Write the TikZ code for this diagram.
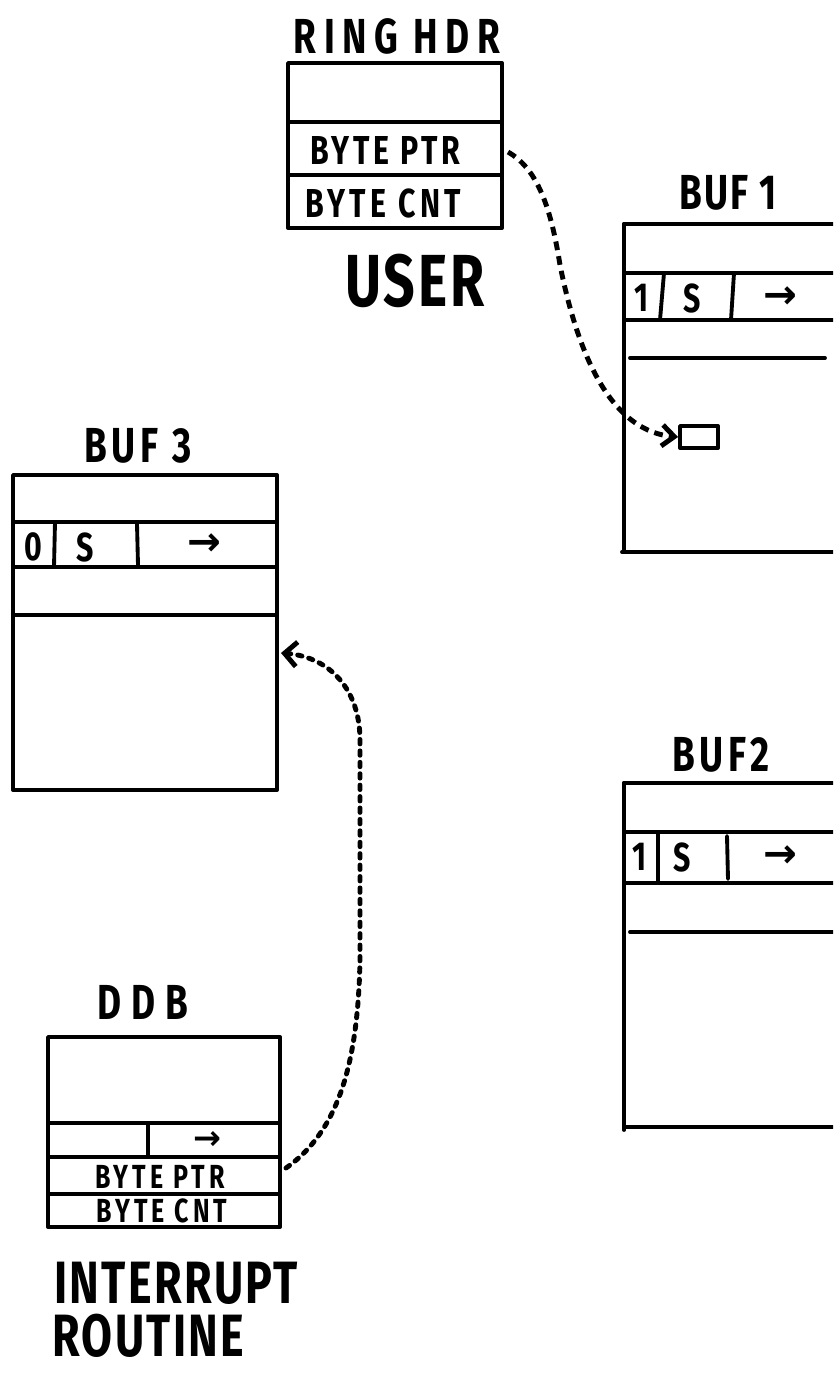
\documentclass[tikz,border=0pt]{standalone}
\usepackage{fontspec}
\newfontfamily\hand{Fira Sans}[FakeStretch=0.75]
\newfontfamily\arrowfont{DejaVu Sans}
\newcommand{\handfont}[3]{\hand\bfseries\fontsize{#1pt}{#2pt}\selectfont\addfontfeatures{LetterSpace=#3}}
\usetikzlibrary{arrows.meta}
\begin{document}
\begin{tikzpicture}[x=0.02cm, y=-0.02cm,
  wall/.style={line width=2.2pt, line cap=round, line join=round},
  title/.style={font=\handfont{28}{30}{#1}, inner sep=0pt},
  title/.default=10,
  field/.style={font=\handfont{23}{25}{#1}, inner sep=0pt},
  field/.default=0,
  small/.style={font=\handfont{19}{21}{12}, inner sep=0pt},
  big/.style={font=\handfont{#1}{30}{4}, inner sep=0pt},
  big/.default=42,
  link/.style={line width=2.8pt, dash pattern=on 5pt off 3.5pt,
    -{Straight Barb[length=7pt,width=12pt]}},
  dotlink/.style={line width=2.8pt, line cap=round, dash pattern=on 2.5pt off 4pt,
    -{Straight Barb[length=7pt,width=14pt]}}]
  \clip (0,0) rectangle (833,1376);
  % ring header (user side)
  \node[title=15] (ringlbl) at (397,36) {RING HDR};
  \draw[wall] (288,63) rectangle (502,228);
  \draw[wall] (288,122) -- (502,122);
  \draw[wall] (288,175) -- (502,175);
  \node[field=9] (ringptr) at (385,150) {BYTE PTR};
  \node[field=11] (ringcnt) at (383,203) {BYTE CNT};
  \node[big] (user) at (415,281) {USER};
  \coordinate (ringout) at (508,152);
  % buffer 1
  \node[title=5] (buf1lbl) at (728,193) {BUF 1};
  \draw[wall] (624,224) -- (850,224);
  \draw[wall] (624,224) -- (624,550);
  \draw[wall] (626,273) -- (850,273);
  \draw[wall] (664,273) -- (660,320);
  \draw[wall] (734,273) -- (731,320);
  \draw[wall] (626,320) -- (850,320);
  \draw[wall] (630,358) -- (825,358);
  \draw[wall] (622,552) -- (850,552);
  \node[field] (buf1use) at (642,298) {1};
  \node[field] (buf1s) at (692,298) {S};
  \node[field] (buf1nxt) at (780,298) {\arrowfont\bfseries →};
  \node[wall, draw, minimum width=0.76cm, minimum height=0.44cm] (slot) at (699,437) {};
  % buffer 2
  \node[title=9] (buf2lbl) at (721,755) {BUF2};
  \draw[wall] (624,783) -- (850,783);
  \draw[wall] (624,783) -- (624,1130);
  \draw[wall] (626,832) -- (850,832);
  \draw[wall] (658,832) -- (658,883);
  \draw[wall] (727,836) -- (728,879);
  \draw[wall] (626,883) -- (850,883);
  \draw[wall] (630,932) -- (850,932);
  \draw[wall] (624,1127) -- (850,1127);
  \node[field] (buf2use) at (640,857) {1};
  \node[field] (buf2s) at (682,857) {S};
  \node[field] (buf2nxt) at (780,857) {\arrowfont\bfseries →};
  % buffer 3
  \node[title=10] (buf3lbl) at (138,446) {BUF 3};
  \draw[wall] (13,475) rectangle (277,790);
  \draw[wall] (13,522) -- (277,522);
  \draw[wall] (55,522) -- (54,567);
  \draw[wall] (137,524) -- (138,565);
  \draw[wall] (13,567) -- (277,567);
  \draw[wall] (13,615) -- (277,615);
  \node[field] (buf3use) at (33,547) {0};
  \node[field] (buf3s) at (85,547) {S};
  \node[field] (buf3nxt) at (204,545) {\arrowfont\bfseries →};
  \coordinate (buf3in) at (281,653);
  % device data block (interrupt side)
  \node[title=20] (ddblbl) at (143,1002) {DDB};
  \draw[wall] (48,1037) rectangle (280,1227);
  \draw[wall] (48,1123) -- (280,1123);
  \draw[wall] (148,1123) -- (148,1157);
  \draw[wall] (48,1157) -- (280,1157);
  \draw[wall] (48,1194) -- (280,1194);
  \node[small] (ddbnxt) at (207,1140) {\arrowfont\bfseries →};
  \node[small] (ddbptr) at (160,1177) {BYTE PTR};
  \node[small] (ddbcnt) at (162,1211) {BYTE CNT};
  \coordinate (ddbout) at (286,1168);
  \node[big=34, anchor=north west] (intr) at (54,1262) {INTERRUPT};
  \node[big=34, anchor=north west] (routine) at (52,1314) {ROUTINE};
  % pointers
  \draw[link] (ringout) .. controls (540,170) and (552,215) .. (560,265)
    .. controls (575,340) and (605,430) .. (slot.west);
  \draw[dotlink] (ddbout) .. controls (340,1130) and (358,1060) .. (360,960)
    -- (360,740) .. controls (360,690) and (330,657) .. (buf3in);
\end{tikzpicture}
\end{document}
